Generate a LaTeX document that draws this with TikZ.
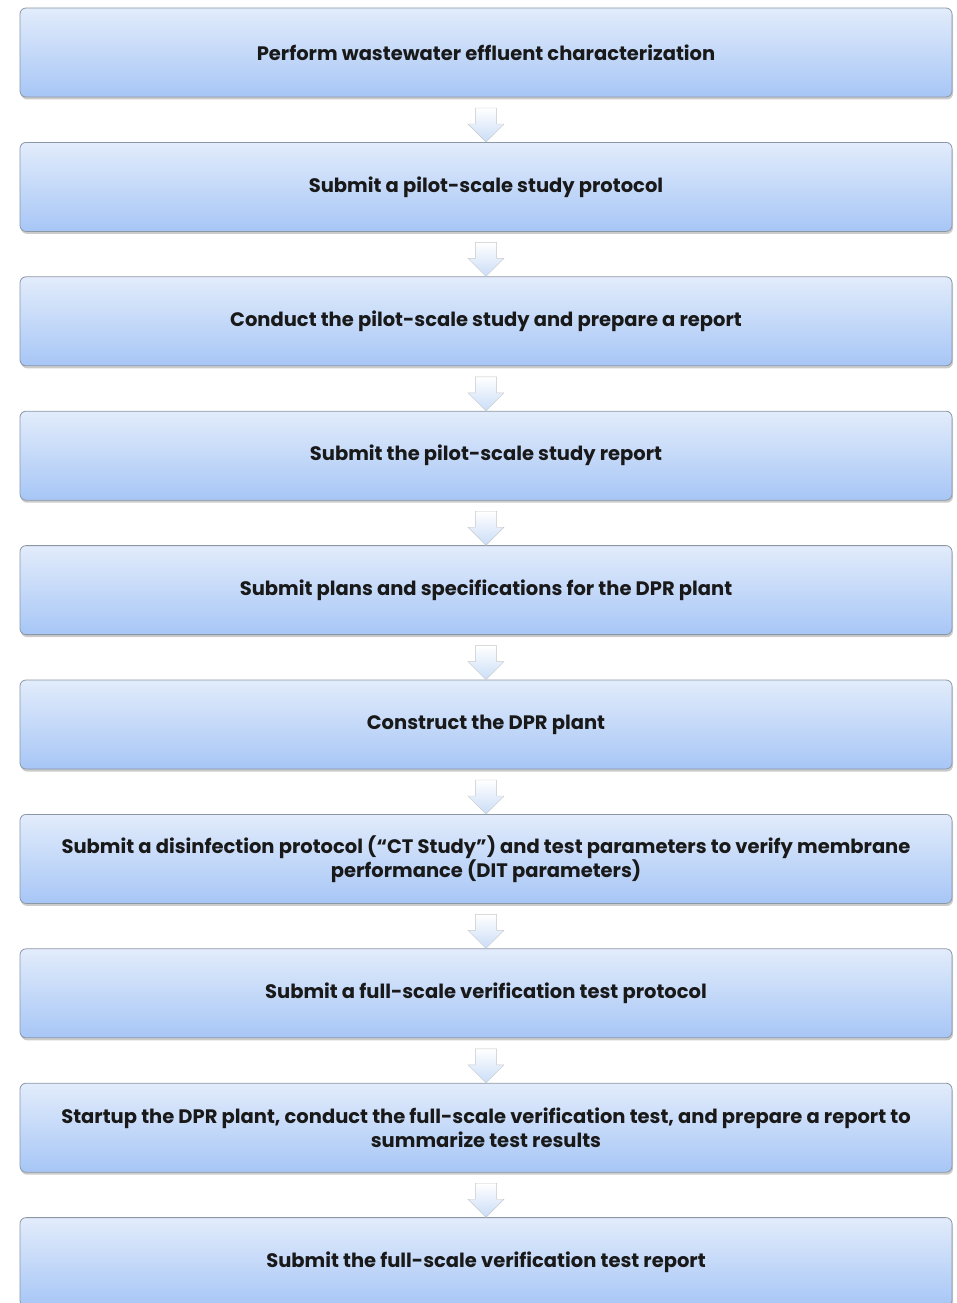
\documentclass[tikz,border=0pt]{standalone}
\usepackage{fontspec}
\setmainfont{Poppins}
\usetikzlibrary{shapes.arrows,shadows}
\definecolor{boxtop}{HTML}{E2ECFB}
\definecolor{boxbot}{HTML}{A7C6F6}
\definecolor{boxline}{HTML}{8C97A6}
\definecolor{arrowbot}{HTML}{CADDF7}
\begin{document}
\begin{tikzpicture}[x=1pt,y=1pt,
    stepbox/.style={rectangle, rounded corners=6pt, draw=boxline, line width=0.8pt,
        top color=boxtop, bottom color=boxbot,
        drop shadow={shadow xshift=1pt, shadow yshift=-2.5pt, fill=black!45, opacity=0.45},
        minimum width=932pt, minimum height=89pt, align=center,
        text=black!90, font=\fontsize{19.5}{24}\selectfont\bfseries},
    flowarrow/.style={single arrow, shape border rotate=270, draw=black!22,
        top color=white, bottom color=arrowbot,
        minimum width=36pt, minimum height=34pt, single arrow head extend=7pt,
        inner sep=10pt}]
    \useasboundingbox (0,0) rectangle (956,-1303);
    \node[stepbox] (s1) at (486,-52.5) {Perform wastewater effluent characterization};
    \node[stepbox] (s2) at (486,-186.9) {Submit a pilot-scale study protocol};
    \node[stepbox] (s3) at (486,-321.3) {Conduct the pilot-scale study and prepare a report};
    \node[stepbox] (s4) at (486,-455.7) {Submit the pilot-scale study report};
    \node[stepbox] (s5) at (486,-590.1) {Submit plans and specifications for the DPR plant};
    \node[stepbox] (s6) at (486,-724.5) {Construct the DPR plant};
    \node[stepbox] (s7) at (486,-858.9) {Submit a disinfection protocol (``CT Study'') and test parameters to verify membrane\\performance (DIT parameters)};
    \node[stepbox] (s8) at (486,-993.3) {Submit a full-scale verification test protocol};
    \node[stepbox] (s9) at (486,-1127.7) {Startup the DPR plant, conduct the full-scale verification test, and prepare a report to\\summarize test results};
    \node[stepbox] (s10) at (486,-1262.1) {Submit the full-scale verification test report};
    % block arrows between the steps
    \path (s1.south) -- (s2.north) node[midway, flowarrow] (a1) {};
    \path (s2.south) -- (s3.north) node[midway, flowarrow] (a2) {};
    \path (s3.south) -- (s4.north) node[midway, flowarrow] (a3) {};
    \path (s4.south) -- (s5.north) node[midway, flowarrow] (a4) {};
    \path (s5.south) -- (s6.north) node[midway, flowarrow] (a5) {};
    \path (s6.south) -- (s7.north) node[midway, flowarrow] (a6) {};
    \path (s7.south) -- (s8.north) node[midway, flowarrow] (a7) {};
    \path (s8.south) -- (s9.north) node[midway, flowarrow] (a8) {};
    \path (s9.south) -- (s10.north) node[midway, flowarrow] (a9) {};
\end{tikzpicture}
\end{document}
